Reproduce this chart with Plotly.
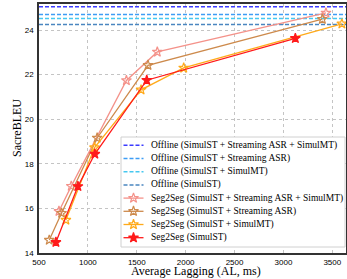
import plotly.graph_objects as go

# ---------------- data ----------------
offline_names = [
    "Offline (SimulST + Streaming ASR + SimulMT)",
    "Offline (SimulST + Streaming ASR)",
    "Offline (SimulST + SimulMT)",
    "Offline (SimulST)",
]
offline_bleu = [25.05, 24.70, 24.52, 24.25]

seg_names = [
    "Seg2Seg (SimulST + Streaming ASR + SimulMT)",
    "Seg2Seg (SimulST + Streaming ASR)",
    "Seg2Seg (SimulST + SimulMT)",
    "Seg2Seg (SimulST)",
]
al_full = [704, 830, 1394, 1710, 3435]
bleu_full = [15.87, 17.00, 21.74, 23.02, 24.77]
al_asr = [605, 731, 1095, 1615, 3398]
bleu_asr = [14.58, 15.79, 19.16, 22.42, 24.49]
al_mt = [775, 1068, 1544, 1980, 3598]
bleu_mt = [15.48, 18.73, 21.32, 22.30, 24.28]
al_st = [673, 898, 1071, 1602, 3122]
bleu_st = [14.48, 16.99, 18.44, 21.75, 23.63]

x_ticks = [500, 1000, 1500, 2000, 2500, 3000, 3500]
y_ticks = [14, 16, 18, 20, 22, 24]
x_title = "Average Lagging (AL, ms)"
y_title = "SacreBLEU"
X_RANGE = [500, 3640]
Y_RANGE = [14, 25.17]

# ---------------- styles ----------------
offline_colors = ["#3b3bff", "#3d9df5", "#46c8f0", "#4a86c0"]
seg_colors = ["#f4928a", "#cd8a4c", "#ffaa1a", "#ff1a1a"]
seg_symbols = ["star-open", "star-open", "star-open", "star"]
FONT = "Liberation Serif, Times New Roman, serif"
TICKFONT = "Liberation Sans, Arial, sans-serif"
MSIZE = 7.5

W, H = 347, 279
L, R, T, B = 39, 1, 4, 26
PW, PH = W - L - R, H - T - B


def px2x(px):
    return X_RANGE[0] + (px - L) / PW * (X_RANGE[1] - X_RANGE[0])


def px2y(py):
    return Y_RANGE[1] - (py - T) / PH * (Y_RANGE[1] - Y_RANGE[0])


fig = go.Figure()

for name, val, col in zip(offline_names, offline_bleu, offline_colors):
    fig.add_trace(go.Scatter(
        x=X_RANGE, y=[val, val], mode="lines", name=name,
        line=dict(color=col, width=1.5, dash="4px,2px"), hoverinfo="skip"))

seg_data = [(al_full, bleu_full), (al_asr, bleu_asr), (al_mt, bleu_mt), (al_st, bleu_st)]
for name, (xs, ys), col, sym in zip(seg_names, seg_data, seg_colors, seg_symbols):
    fig.add_trace(go.Scatter(
        x=xs, y=ys, mode="lines+markers", name=name,
        line=dict(color=col, width=1.3),
        marker=dict(symbol=sym, size=MSIZE, color=col, line=dict(color=col, width=1.2))))

# ---------------- compact legend (drawn in pixel positions) ----------------
box_l, box_r, box_t, box_b = 121, 345, 137, 247
row_y0, row_dy = 145.3, 13.2
sx0, sx1, tx = 123.5, 143.5, 151

fig.add_shape(type="rect", xref="x", yref="y",
              x0=px2x(box_l), x1=px2x(box_r), y0=px2y(box_t), y1=px2y(box_b),
              fillcolor="white", line=dict(color="#d0d0d0", width=1), layer="between")

entries = list(zip(offline_names, offline_colors, [None] * 4)) + \
    list(zip(seg_names, seg_colors, seg_symbols))
for i, (name, col, sym) in enumerate(entries):
    yy = px2y(row_y0 + i * row_dy)
    xa, xb = px2x(sx0), px2x(sx1)
    if sym is None:
        fig.add_trace(go.Scatter(x=[xa, xb], y=[yy, yy],
                                 mode="lines", line=dict(color=col, width=1.5, dash="4px,2px"),
                                 hoverinfo="skip"))
    else:
        fig.add_trace(go.Scatter(x=[xa, xb], y=[yy, yy], mode="lines",
                                 line=dict(color=col, width=1.3), hoverinfo="skip"))
        fig.add_trace(go.Scatter(x=[(xa + xb) / 2], y=[yy], mode="markers",
                                 marker=dict(symbol=sym, size=MSIZE, color=col,
                                             line=dict(color=col, width=1.2)),
                                 hoverinfo="skip"))
    fig.add_annotation(x=px2x(tx), y=yy, xref="x", yref="y", text=name, showarrow=False,
                       xanchor="left", yanchor="middle", xshift=-2,
                       font=dict(family=FONT, size=9.5, color="black"))

# axis titles placed at the reference's pixel positions
fig.add_annotation(x=(196 - L) / PW, y=-(279 - (H - B)) / PH, xref="paper", yref="paper",
                   text=x_title, showarrow=False, xanchor="center", yanchor="bottom",
                   borderpad=0, font=dict(family=FONT, size=12, color="black"))
fig.add_annotation(x=(16.5 - L) / PW, y=0.5, xref="paper", yref="paper", textangle=-90,
                   text=y_title, showarrow=False, xanchor="center", yanchor="middle",
                   font=dict(family=FONT, size=12, color="black"))

axis_common = dict(showline=True, linecolor="#333333", linewidth=1.5, mirror=True,
                   showgrid=True, gridcolor="#c4c4c4", griddash="dot", gridwidth=1,
                   zeroline=False, ticks="", automargin=False,
                   tickfont=dict(family=TICKFONT, size=8, color="black"))

fig.update_layout(
    width=W, height=H, margin=dict(l=L, r=R, t=T, b=B),
    paper_bgcolor="white", plot_bgcolor="white",
    showlegend=False,
    xaxis=dict(range=X_RANGE, tickvals=x_ticks, ticktext=[str(v) for v in x_ticks],
               ticklabelstandoff=1, **axis_common),
    yaxis=dict(range=Y_RANGE, tickvals=y_ticks, ticktext=[str(v) for v in y_ticks],
               ticklabelstandoff=2, **axis_common),
)

fig.write_html("out.html", config={"displayModeBar": False},
               post_script="document.body.style.margin='0';document.body.style.overflow='hidden';")
